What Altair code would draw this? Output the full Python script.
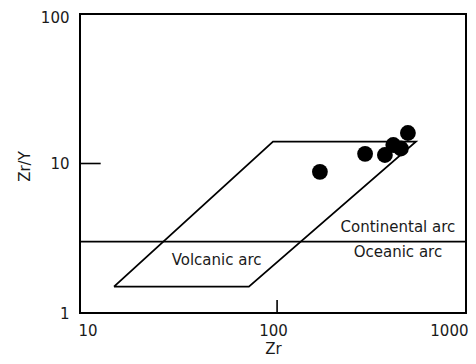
import altair as alt
import pandas as pd

# Data
zr_pts = [175, 300, 380, 420, 460, 500]
zry_pts = [8.8, 11.6, 11.4, 13.3, 12.6, 16.0]

poly_zr = [15, 75, 550, 100, 15]
poly_zry = [1.5, 1.5, 14, 14, 1.5]

boundary_zr = [10, 1000]
boundary_zry = [3, 3]

label_text = ["Continental arc", "Oceanic arc", "Volcanic arc"]
label_zr = [444, 444, 51]
label_zry = [3.76, 2.56, 2.26]

ytick_zr = [10, 12.8]
ytick_zry = [10, 10]
xtick_zr = [105, 105]
xtick_zry = [1, 1.22]

FONT = "DejaVu Sans"
COL = "#1a1a1a"

xs = alt.Scale(type="log", domain=[10, 1000], nice=False)
ys = alt.Scale(type="log", domain=[1, 100], nice=False)

xaxis = alt.Axis(values=[10, 100, 1000], format="d", title="Zr", ticks=False,
                 domain=False, grid=False, labelPadding=10, labelFontSize=15,
                 labelFlush=True, labelFlushOffset=2,
                 labelFont=FONT, labelColor=COL, titleFont=FONT, titleFontSize=15,
                 titleFontWeight="normal", titleColor=COL, titleX=193, titleY=35,
                 titleBaseline="middle")
yaxis = alt.Axis(values=[1, 10, 100], format="d", title="Zr/Y", ticks=False,
                 domain=False, grid=False, labelPadding=11, labelFontSize=15,
                 labelFlush=False,
                 labelOffset={"condition": {"test": "datum.value >= 100", "value": 3},
                              "value": 0},
                 labelFont=FONT, labelColor=COL, titleFont=FONT, titleFontSize=15,
                 titleFontWeight="normal", titleColor=COL, titleX=-56, titleY=152,
                 titleBaseline="middle", titleAngle=-90)

pts = pd.DataFrame({"Zr": zr_pts, "ZrY": zry_pts})
poly = pd.DataFrame({"Zr": poly_zr, "ZrY": poly_zry, "o": list(range(len(poly_zr)))})
bnd = pd.DataFrame({"Zr": boundary_zr, "ZrY": boundary_zry})
labs = pd.DataFrame({"Zr": label_zr, "ZrY": label_zry, "t": label_text})
ytk = pd.DataFrame({"x": [ytick_zr[0]], "x2": [ytick_zr[1]], "y": [ytick_zry[0]]})
xtk = pd.DataFrame({"x": [xtick_zr[0]], "y": [xtick_zry[0]], "y2": [xtick_zry[1]]})

base_points = alt.Chart(pts).mark_circle(size=250, color="black", opacity=1).encode(
    x=alt.X("Zr:Q", scale=xs, axis=xaxis),
    y=alt.Y("ZrY:Q", scale=ys, axis=yaxis),
)

poly_layer = alt.Chart(poly).mark_line(color="black", strokeWidth=1.8).encode(
    x=alt.X("Zr:Q", scale=xs),
    y=alt.Y("ZrY:Q", scale=ys),
    order="o:Q",
)

bnd_layer = alt.Chart(bnd).mark_line(color="black", strokeWidth=1.6).encode(
    x=alt.X("Zr:Q", scale=xs),
    y=alt.Y("ZrY:Q", scale=ys),
)

text_layer = alt.Chart(labs).mark_text(font=FONT, fontSize=15, color=COL,
                                       align="center", baseline="middle").encode(
    x=alt.X("Zr:Q", scale=xs),
    y=alt.Y("ZrY:Q", scale=ys),
    text="t:N",
)

ytick_layer = alt.Chart(ytk).mark_rule(color="black", strokeWidth=1.6).encode(
    x=alt.X("x:Q", scale=xs), x2="x2:Q", y=alt.Y("y:Q", scale=ys)
)
xtick_layer = alt.Chart(xtk).mark_rule(color="black", strokeWidth=1.6).encode(
    x=alt.X("x:Q", scale=xs), y=alt.Y("y:Q", scale=ys), y2="y2:Q"
)

chart = alt.layer(
    bnd_layer, poly_layer, ytick_layer, xtick_layer, text_layer, base_points
).properties(
    width=386, height=299,
    autosize=alt.AutoSizeParams(type="none"),
    padding={"left": 72, "top": 6, "right": 2, "bottom": 43},
    background="white",
).configure_view(
    stroke="black", strokeWidth=2
)

chart.save("out.html", embed_options={"renderer": "svg", "actions": False})
